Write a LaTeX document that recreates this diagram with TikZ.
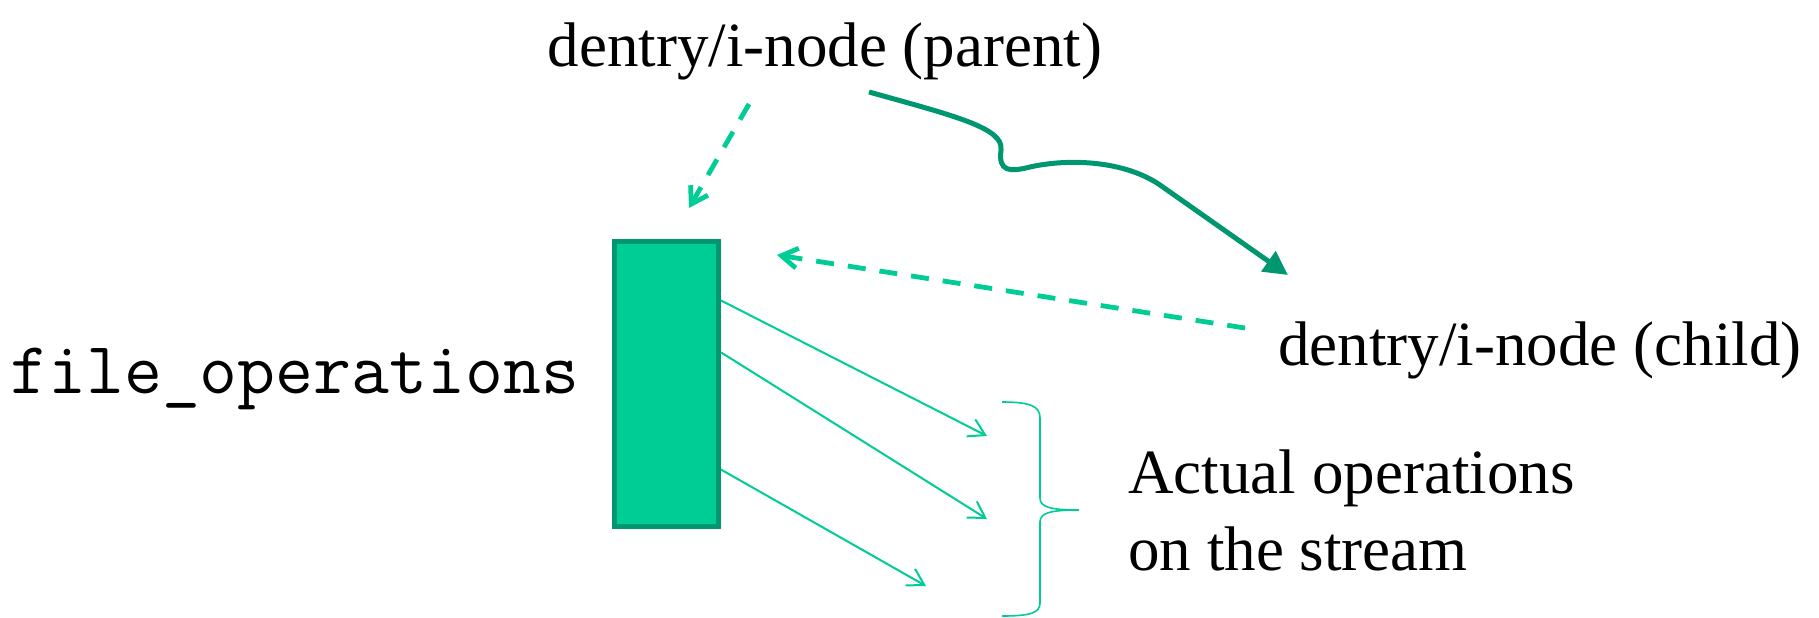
\documentclass[tikz,border=0pt]{standalone}
\usepackage{fontspec}
\setmainfont{Liberation Serif}
\usetikzlibrary{arrows.meta,calc}
\definecolor{streamgreen}{RGB}{0,204,150}
\definecolor{darkgreen}{RGB}{0,150,112}

\begin{document}
\begin{tikzpicture}[x=0.5pt,y=-0.5pt,
                        txt/.style={inner sep=0pt, font=\fontsize{31.5}{38.5}\selectfont},
                        link/.style={streamgreen, line width=2.4pt, dash pattern=on 9pt off 7pt, -{Straight Barb[length=8pt,width=10pt]}},
                        oparrow/.style={streamgreen, line width=1pt, -{Straight Barb[length=8pt,width=9.5pt]}},
                        lookup/.style={darkgreen, line width=2.5pt, -{Triangle[length=12pt,width=12pt]}}]
                        \useasboundingbox (0,0) rectangle (1819,617);

                        \node[txt] (parent) at (825,66) [anchor=base] {dentry/i-node (parent)};
                        \node[txt] (child) at (1278,365) [anchor=base west] {dentry/i-node (child)};
                        \node[txt] (fops) at (10,393) [anchor=base west, font=\fontsize{36.8}{40}\selectfont\ttfamily] {file\_operations};
                        \node[txt] (ops) at (1128,570) [anchor=base west, align=left] {Actual operations\\on the stream};
                        \node[fill=streamgreen] (table) at (666.5,384) [draw=darkgreen, line width=2.5pt, minimum width=52pt, minimum height=142.5pt, inner sep=0pt] {};

                        \coordinate (p1) at (749,104);
                        \coordinate (p2) at (689,208);
                        \coordinate (c1) at (1245,328);
                        \coordinate (c2) at (777,255);
                        \coordinate (w1) at (869,92);
                        \coordinate (w2) at (1288,275);
                        \coordinate (s1) at ($(table.north east)!0.212!(table.south east)$);
                        \coordinate (s2) at ($(table.north east)!0.391!(table.south east)$);
                        \coordinate (s3) at ($(table.north east)!0.795!(table.south east)$);
                        \coordinate (e1) at (987,436);
                        \coordinate (e2) at (987,519);
                        \coordinate (e3) at (926,586);

                        \path	[link]	(p1)	edge	(p2)
                        (c1)	edge	(c2);
                        \path	[oparrow]	(s1)	edge	(e1)
                        (s2)	edge	(e2)
                        (s3)	edge	(e3);
                        \draw[lookup] (w1) .. controls (955,116) and (1004,128) .. (1001,150)
                                .. controls (998,172) and (1010,172) .. (1030,167)
                                .. controls (1070,158) and (1125,161) .. (1160,185) -- (w2);
                        \draw[streamgreen, line width=0.8pt] (1002,402) .. controls (1030,402) and (1040,406) .. (1040,418) -- (1040,498)
                                .. controls (1040,507) and (1050,510) .. (1079,510)
                                .. controls (1050,510) and (1040,513) .. (1040,522) -- (1040,603)
                                .. controls (1040,613) and (1030,616) .. (1002,616);
                    \end{tikzpicture}
\end{document}
